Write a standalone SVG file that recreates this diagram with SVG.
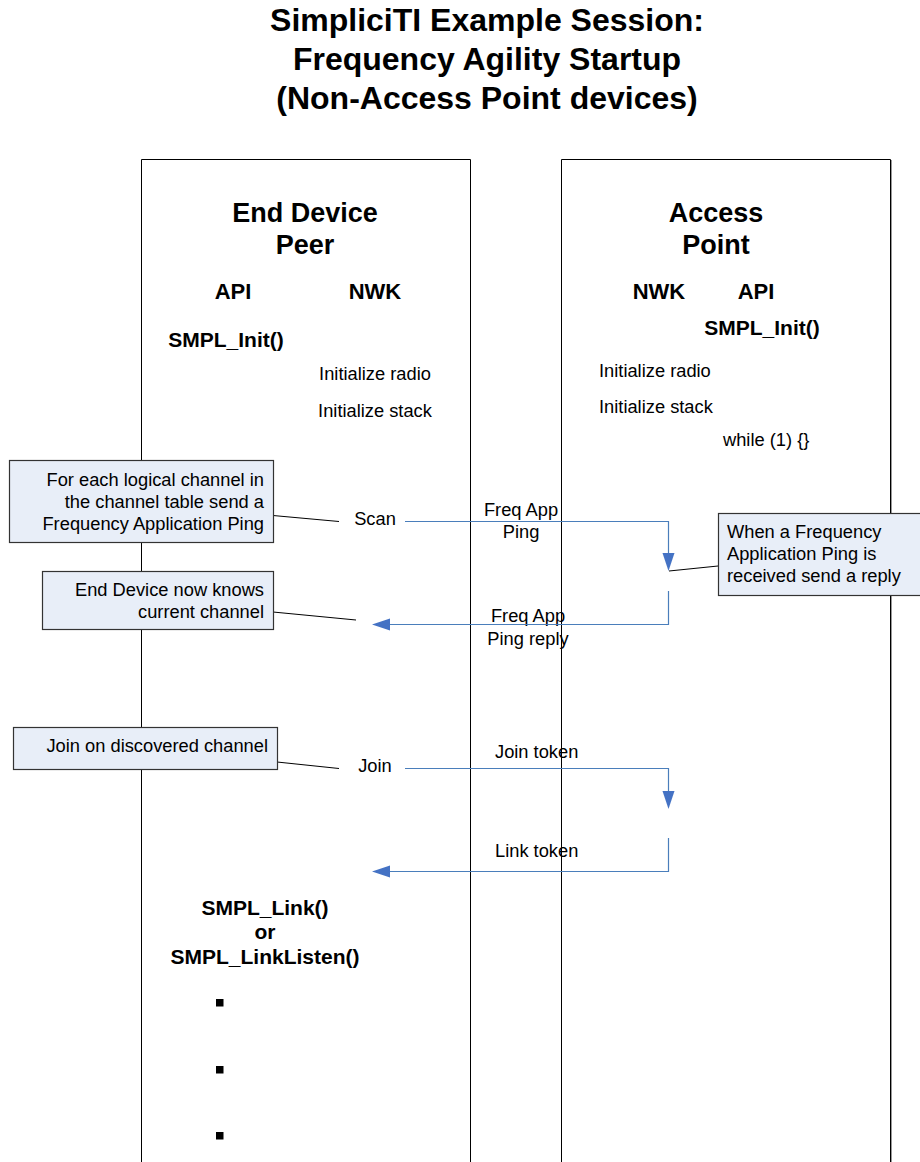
<svg xmlns="http://www.w3.org/2000/svg" width="920" height="1162" viewBox="0 0 920 1162">
<defs>
<style>
.t{font-family:"Liberation Sans",Arial,sans-serif;fill:#000}
.title{font-size:32px;font-weight:bold;text-anchor:middle}
.lane{font-size:27px;font-weight:bold;text-anchor:middle}
.hdr{font-size:22px;font-weight:bold;text-anchor:middle}
.api{font-size:21px;font-weight:bold;text-anchor:middle}
.r{font-size:18.3px}
.m{text-anchor:middle}
.e{text-anchor:end}
.lanebox{fill:none;stroke:#000;stroke-width:1}
.note{fill:#E8EEF8;stroke:#333;stroke-width:1.2}
.lead{stroke:#000;stroke-width:1;fill:none}
.msg{stroke:#4A7EBB;stroke-width:1.2;fill:none}
.ah{fill:#4472C4}
</style>
</defs>
<rect width="920" height="1162" fill="#fff"/>
<g id="title">
<text class="t title" x="487" y="31">SimpliciTI Example Session:</text>
<text class="t title" x="487" y="70">Frequency Agility Startup</text>
<text class="t title" x="487" y="109">(Non-Access Point devices)</text>
</g>
<g id="lane-end-device">
<text class="t lane" x="305" y="222">End Device</text>
<text class="t lane" x="305" y="254">Peer</text>
<text class="t hdr" x="233" y="299">API</text>
<text class="t hdr" x="375" y="299">NWK</text>
<text class="t api" x="226" y="347">SMPL_Init()</text>
<text class="t r m" x="375" y="380">Initialize radio</text>
<text class="t r m" x="375" y="417">Initialize stack</text>
<text class="t r m" x="375" y="525">Scan</text>
<text class="t r m" x="375" y="772">Join</text>
<text class="t api" x="265" y="915">SMPL_Link()</text>
<text class="t api" x="265" y="939">or</text>
<text class="t api" x="265" y="964">SMPL_LinkListen()</text>
<rect x="216" y="999" width="7.5" height="7.5" fill="#000"/>
<rect x="216" y="1066" width="7.5" height="7.5" fill="#000"/>
<rect x="216" y="1132" width="7.5" height="7.5" fill="#000"/>
</g>
<g id="lane-access-point">
<text class="t lane" x="716" y="222">Access</text>
<text class="t lane" x="716" y="254">Point</text>
<text class="t hdr" x="659" y="299">NWK</text>
<text class="t hdr" x="756" y="299">API</text>
<text class="t api" x="762" y="335">SMPL_Init()</text>
<text class="t r" x="599" y="377">Initialize radio</text>
<text class="t r" x="599" y="413">Initialize stack</text>
<text class="t r" x="723" y="446">while (1) {}</text>
</g>
<g id="message-labels">
<text class="t r m" x="521" y="516">Freq App</text>
<text class="t r m" x="521" y="538">Ping</text>
<text class="t r m" x="528" y="622">Freq App</text>
<text class="t r m" x="528" y="645">Ping reply</text>
<text class="t r" x="495" y="758">Join token</text>
<text class="t r" x="495" y="857">Link token</text>
</g>
<g id="lanes">
<path class="lanebox" d="M141.5,1162 V159.5 H470.5 V1162"/>
<path class="lanebox" d="M561.5,1162 V159.5 H890.5 V1162"/>
<line x1="891.5" y1="160" x2="891.5" y2="1162" stroke="#999" stroke-width="1"/>
</g>
<g id="connectors">
<path class="msg" d="M405,521.5 H668.5 V555"/>
<polygon class="ah" points="662.5,553 674.5,553 668.5,571"/>
<path class="msg" d="M668.5,591 V624.5 H388"/>
<polygon class="ah" points="372,624.5 390,618.5 390,630.5"/>
<path class="msg" d="M405,768.5 H668.5 V793"/>
<polygon class="ah" points="662.5,791 674.5,791 668.5,809"/>
<path class="msg" d="M668.5,838 V871.5 H388"/>
<polygon class="ah" points="372,871.5 390,865.5 390,877.5"/>
<line class="lead" x1="273" y1="515.5" x2="339" y2="521.5"/>
<line class="lead" x1="273" y1="612" x2="356" y2="620"/>
<line class="lead" x1="277" y1="762" x2="339" y2="768.5"/>
<line class="lead" x1="718" y1="566" x2="669" y2="571"/>
</g>
<g id="note-scan">
<rect class="note" x="9.5" y="460.5" width="264" height="82"/>
<text class="t r e" x="264" y="486">For each logical channel in</text>
<text class="t r e" x="264" y="508">the channel table send a</text>
<text class="t r e" x="264" y="530">Frequency Application Ping</text>
</g>
<g id="note-knows">
<rect class="note" x="42.5" y="571.5" width="231" height="58"/>
<text class="t r e" x="264" y="596">End Device now knows</text>
<text class="t r e" x="264" y="618">current channel</text>
</g>
<g id="note-join">
<rect class="note" x="13.5" y="727.5" width="264" height="42"/>
<text class="t r e" x="268" y="752">Join on discovered channel</text>
</g>
<g id="note-reply">
<rect class="note" x="718.5" y="513.5" width="210" height="82"/>
<text class="t r" x="727" y="538">When a Frequency</text>
<text class="t r" x="727" y="560">Application Ping is</text>
<text class="t r" x="727" y="582">received send a reply</text>
</g>
</svg>
